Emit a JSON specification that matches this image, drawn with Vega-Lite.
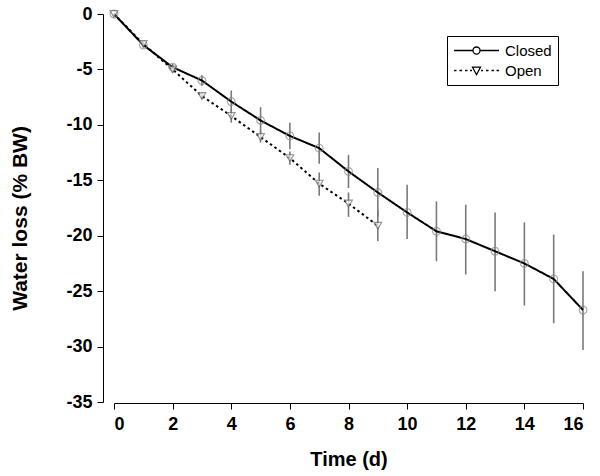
{
  "$schema": "https://vega.github.io/schema/vega-lite/v6.json",
  "width": 469,
  "height": 388,
  "autosize": {"type": "none"},
  "padding": {"left": 114, "top": 14, "right": 17, "bottom": 74},
  "background": "white",
  "config": {
    "view": {"stroke": null},
    "font": "Liberation Sans",
    "axis": {
      "grid": false,
      "domainColor": "black",
      "domainWidth": 1,
      "tickColor": "black",
      "tickWidth": 1,
      "tickSize": 6,
      "labelFont": "Liberation Sans",
      "labelFontWeight": "bold",
      "labelFontSize": 18,
      "labelColor": "black",
      "titleFont": "Liberation Sans",
      "titleFontWeight": "bold",
      "titleFontSize": 20,
      "titleColor": "black"
    },
    "legend": {
      "title": null,
      "orient": "none",
      "legendX": 333,
      "legendY": 22,
      "strokeColor": "black",
      "fillColor": "white",
      "padding": 6,
      "symbolSize": 225,
      "symbolOpacity": 1,
      "symbolStrokeWidth": 1.3,
      "symbolStrokeColor": "black",
      "symbolFillColor": "white",
      "labelFont": "Liberation Sans",
      "labelFontSize": 15,
      "labelColor": "black",
      "labelOffset": 35,
      "rowPadding": 3
    }
  },
  "data": {
    "values": [
      {"series": "Closed", "day": 0, "y": 0, "lo": 0, "hi": 0},
      {"series": "Closed", "day": 1, "y": -2.8, "lo": -2.6, "hi": -3.0},
      {"series": "Closed", "day": 2, "y": -4.8, "lo": -4.5, "hi": -5.1},
      {"series": "Closed", "day": 3, "y": -6.0, "lo": -5.5, "hi": -6.5},
      {"series": "Closed", "day": 4, "y": -7.9, "lo": -6.9, "hi": -8.9},
      {"series": "Closed", "day": 5, "y": -9.6, "lo": -8.4, "hi": -10.8},
      {"series": "Closed", "day": 6, "y": -11.0, "lo": -9.8, "hi": -12.2},
      {"series": "Closed", "day": 7, "y": -12.1, "lo": -10.7, "hi": -13.5},
      {"series": "Closed", "day": 8, "y": -14.2, "lo": -12.7, "hi": -15.7},
      {"series": "Closed", "day": 9, "y": -16.1, "lo": -13.9, "hi": -18.3},
      {"series": "Closed", "day": 10, "y": -17.9, "lo": -15.4, "hi": -20.3},
      {"series": "Closed", "day": 11, "y": -19.6, "lo": -16.9, "hi": -22.3},
      {"series": "Closed", "day": 12, "y": -20.3, "lo": -17.2, "hi": -23.5},
      {"series": "Closed", "day": 13, "y": -21.4, "lo": -17.9, "hi": -25.0},
      {"series": "Closed", "day": 14, "y": -22.5, "lo": -18.8, "hi": -26.3},
      {"series": "Closed", "day": 15, "y": -23.9, "lo": -19.9, "hi": -27.9},
      {"series": "Closed", "day": 16, "y": -26.7, "lo": -23.2, "hi": -30.3},
      {"series": "Open", "day": 0, "y": 0, "lo": 0, "hi": 0},
      {"series": "Open", "day": 1, "y": -2.7, "lo": -2.5, "hi": -2.9},
      {"series": "Open", "day": 2, "y": -5.0, "lo": -4.7, "hi": -5.3},
      {"series": "Open", "day": 3, "y": -7.4, "lo": -7.1, "hi": -7.7},
      {"series": "Open", "day": 4, "y": -9.2, "lo": -8.6, "hi": -9.8},
      {"series": "Open", "day": 5, "y": -11.1, "lo": -10.6, "hi": -11.6},
      {"series": "Open", "day": 6, "y": -13.0, "lo": -12.4, "hi": -13.6},
      {"series": "Open", "day": 7, "y": -15.3, "lo": -14.3, "hi": -16.4},
      {"series": "Open", "day": 8, "y": -17.1, "lo": -16.1, "hi": -18.3},
      {"series": "Open", "day": 9, "y": -19.1, "lo": -17.7, "hi": -20.5}
    ]
  },
  "encoding": {
    "x": {
      "field": "day", "type": "quantitative", "title": "Time (d)",
      "scale": {"domain": [0, 16], "nice": false, "zero": false},
      "axis": {"values": [0, 2, 4, 6, 8, 10, 12, 14, 16], "offset": 1, "labelPadding": 6, "titlePadding": 16}
    }
  },
  "resolve": {"scale": {"shape": "independent", "stroke": "independent", "fill": "independent"}, "legend": {"shape": "independent"}},
  "layer": [
    {
      "mark": {"type": "rule", "color": "#7a7a7a", "strokeWidth": 1.6},
      "encoding": {
        "y": {"field": "lo", "type": "quantitative", "scale": {"domain": [-35, 0], "nice": false}},
        "y2": {"field": "hi"}
      }
    },
    {
      "mark": {"type": "line", "color": "black", "strokeWidth": 2},
      "encoding": {
        "y": {
          "field": "y", "type": "quantitative", "title": "Water loss (% BW)",
          "scale": {"domain": [-35, 0], "nice": false},
          "axis": {"values": [0, -5, -10, -15, -20, -25, -30, -35], "labelExpr": "datum.value < 0 ? '-' + abs(datum.value) : '' + datum.value", "offset": 11, "labelPadding": 5, "titleX": -83, "titleY": 204, "titleBaseline": "middle", "titleFontSize": 21}
        },
        "strokeDash": {
          "field": "series", "type": "nominal",
          "scale": {"domain": ["Closed", "Open"], "range": [[1, 0], [2.5, 3]]},
          "legend": null
        }
      }
    },
    {
      "mark": {"type": "point", "filled": false, "strokeWidth": 1.2, "size": 60},
      "encoding": {
        "y": {"field": "y", "type": "quantitative"},
        "shape": {
          "field": "series", "type": "nominal",
          "scale": {"domain": ["Closed", "Open"], "range": ["circle", "triangle-down"]},
          "legend": null
        },
        "stroke": {
          "field": "series", "type": "nominal",
          "scale": {"domain": ["Closed", "Open"], "range": ["#8a8a8a", "#6a6a6a"]},
          "legend": null
        },
        "fill": {
          "field": "series", "type": "nominal",
          "scale": {"domain": ["Closed", "Open"], "range": ["transparent", "white"]},
          "legend": null
        }
      }
    },
    {
      "mark": {"type": "point", "filled": false, "opacity": 0, "color": "black", "strokeWidth": 1.2},
      "encoding": {
        "y": {"field": "y", "type": "quantitative"},
        "shape": {
          "field": "series", "type": "nominal",
          "scale": {"domain": ["Closed", "Open"], "range": ["M-1,0H1.53M2.47,0H5M1.53,0A0.47,0.47 0 1,0 2.47,0A0.47,0.47 0 1,0 1.53,0", "M-1,0H-0.67M-0.27,0H0.07M0.47,0H0.8M1.13,0H1.4M2.6,0H2.87M3.27,0H3.6M4,0H4.33M4.67,0H5M1.47,-0.44H2.53L2,0.56Z"]},
          "legend": {}
        }
      }
    }
  ]
}
